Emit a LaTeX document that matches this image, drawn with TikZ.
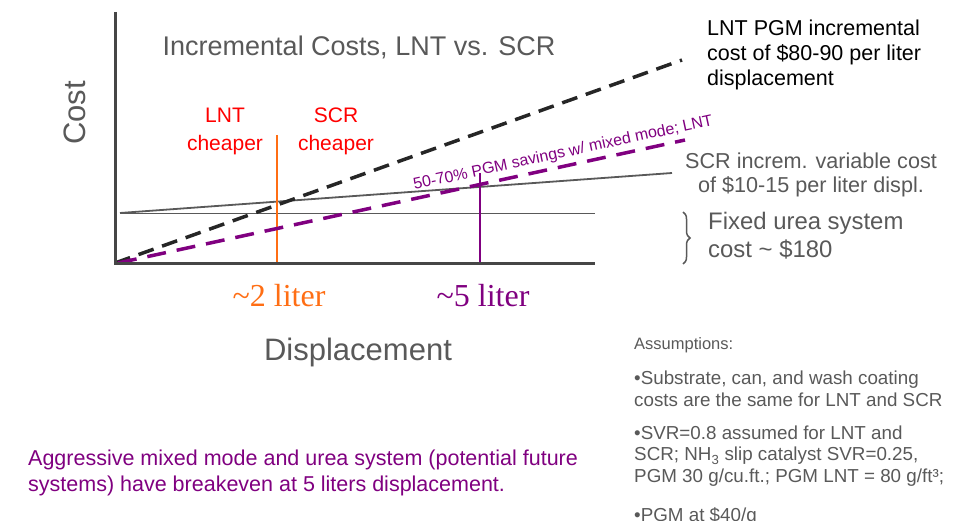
\documentclass[tikz,border=0pt]{standalone}
\usepackage{fontspec}
\setmainfont{Liberation Sans}
\newfontfamily\timesfont{Liberation Serif}
\usetikzlibrary{positioning,decorations.pathreplacing}

\definecolor{axisgray}{RGB}{70,70,70}
\definecolor{textgray}{RGB}{89,89,89}
\definecolor{mixpurple}{RGB}{128,0,128}
\definecolor{breakorange}{RGB}{255,110,20}

\newcommand{\fsz}[1]{\fontsize{#1}{1.15\dimexpr#1pt\relax}\selectfont}

\begin{document}
\begin{tikzpicture}[x=1pt, y=-1pt,
        axis/.style={axisgray, line width=3pt},
        fixed/.style={textgray, line width=0.8pt},
        scrcost/.style={textgray, line width=1.8pt},
        lntcost/.style={black!85, line width=3.5pt, dash pattern=on 16pt off 9pt},
        mixcost/.style={mixpurple, line width=3.5pt, dash pattern=on 19pt off 11pt},
        marker/.style={line width=1.2pt},
        axislabel/.style={textgray, font=\fsz{31}},
        title/.style={textgray, font=\fsz{27}},
        cheap/.style={red, font=\fontsize{21}{28}\selectfont, align=center, inner sep=0pt},
        liter/.style={font=\timesfont\fsz{32}},
        note/.style={inner sep=0pt, anchor=west, align=left},
        assume/.style={textgray, inner sep=0pt, align=left, font=\fontsize{18.8}{21.5}\selectfont}
    ]
    \useasboundingbox (0,0) rectangle (957,521);

    % Axes
    \coordinate (O) at (115,263);
    \coordinate (ytop) at (115,12);
    \coordinate (xend) at (595,263);

    % Cost lines
    \coordinate (fixl) at (120,213);
    \coordinate (fixr) at (595,213);
    \coordinate (scrr) at (672,173);
    \coordinate (lntr) at (682,60);
    \coordinate (mixs) at (118,263);
    \coordinate (mixr) at (685,140);

    % Breakeven markers
    \coordinate (twotop) at (277,135);
    \coordinate (twobot) at (277,263);
    \coordinate (fivetop) at (480,173);
    \coordinate (fivebot) at (480,263);

    \draw[fixed] (fixl) -- (fixr);
    \draw[scrcost] (fixl) -- (scrr);
    \draw[marker, breakorange] (twotop) -- (twobot);
    \draw[marker, mixpurple] (fivetop) -- (fivebot);
    \draw[lntcost] (O) -- (lntr);
    \draw[mixcost] (mixs) -- (mixr)
        node[pos=0.79, sloped, above=3.5pt, inner sep=0pt, font=\fsz{16}] (mixlabel) {50-70\% PGM savings w/ mixed mode; LNT};
    \draw[axis] (ytop) -- (O) -- (xend);

    % Fixed cost brace
    \coordinate (bracetop) at (683,212);
    \coordinate (bracebot) at (683,264);
    \draw[textgray, line width=1.5pt, decorate, decoration={brace, amplitude=7pt}] (bracetop) -- (bracebot);

    % Labels
    \node[axislabel, rotate=90] (cost) at (75,113) {Cost};
    \node[title] (title) at (359,47) {Incremental Costs, LNT vs. SCR};
    \node[cheap] (lntcheap) at (225,131) {LNT\\cheaper};
    \node[cheap] (scrcheap) at (336,131) {SCR\\cheaper};
    \node[liter, breakorange] (two) at (279,296) {\textasciitilde2 liter};
    \node[liter, mixpurple] (five) at (483,296) {\textasciitilde5 liter};
    \node[axislabel] (disp) at (358,352) {Displacement};

    % Notes on the right
    \node[note, font=\fontsize{21.5}{25}\selectfont] (lntnote) at (707,55) {LNT PGM incremental\\cost of \$80-90 per liter\\displacement};
    \node[note, textgray, align=center, anchor=center, font=\fontsize{21.6}{24}\selectfont] (scrnote) at (811,175) {SCR increm. variable cost\\of \$10-15 per liter displ.};
    \node[note, textgray, font=\fontsize{23.9}{28}\selectfont] (fixnote) at (708,236) {Fixed urea system\\cost \textasciitilde{} \$180};

    % Assumptions
    \node[assume, anchor=west, font=\fsz{16.5}] (assum) at (634,345) {Assumptions:};
    \node[assume, below right=18pt and 0pt of assum.south west] (sub) {•Substrate, can, and wash coating\\costs are the same for LNT and SCR};
    \node[assume, below right=19pt and 0pt of sub.south west] (svr) {•SVR=0.8 assumed for LNT and\\SCR; NH\textsubscript{3} slip catalyst SVR=0.25,\\PGM 30 g/cu.ft.; PGM LNT = 80 g/ft³;};
    \node[assume, below right=21pt and 0pt of svr.south west] (pgm) {•PGM at \$40/g};

    % Conclusion
    \node[note, mixpurple, font=\fontsize{21.5}{26}\selectfont] (concl) at (28,473) {Aggressive mixed mode and urea system (potential future\\systems) have breakeven at 5 liters displacement.};

\end{tikzpicture}
\end{document}
